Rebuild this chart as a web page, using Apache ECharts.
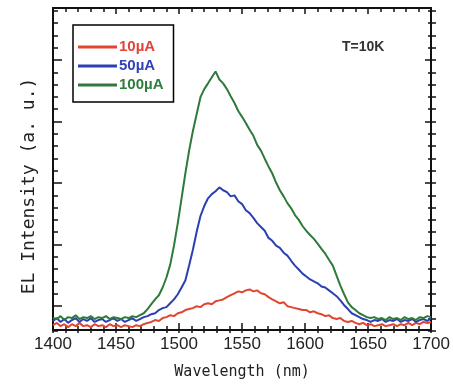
<!DOCTYPE html>
<html>
<head>
<meta charset="utf-8">
<script src="https://cdn.jsdelivr.net/npm/echarts@6/dist/echarts.min.js"></script>
<style>
  html, body { margin: 0; padding: 0; background: #fff; }
  #chart { width: 453px; height: 385px; }
</style>
</head>
<body>
<div id="chart"></div>
<script>
// Wavelength sampling (nm)
const wavelength = [
  1400, 1403, 1406, 1409, 1412, 1415, 1418, 1421, 1424, 1427, 1430, 1433, 1436, 1439, 1442, 1445, 1448,
  1451, 1454, 1457, 1460, 1463, 1466, 1469, 1472, 1475, 1478, 1481, 1484, 1487, 1490, 1493, 1496, 1499,
  1502, 1505, 1508, 1511, 1514, 1517, 1520, 1523, 1526, 1529, 1532, 1535, 1538, 1541, 1544, 1547, 1550,
  1553, 1556, 1559, 1562, 1565, 1568, 1571, 1574, 1577, 1580, 1583, 1586, 1589, 1592, 1595, 1598, 1601,
  1604, 1607, 1610, 1613, 1616, 1619, 1622, 1625, 1628, 1631, 1634, 1637, 1640, 1643, 1646, 1649, 1652,
  1655, 1658, 1661, 1664, 1667, 1670, 1673, 1676, 1679, 1682, 1685, 1688, 1691, 1694, 1697, 1700
];

// EL intensity (a.u.) at 10 uA
const el10uA = [
  1.5, 2.2, 1.2, 1.8, 0.9, 1.8, 1.2, 2.2, 1.2, 1.5, 0.9, 1.8, 1.2, 1.5, 0.9, 1.8, 1.2,
  1.5, 0.9, 1.5, 1.2, 0.9, 1.5, 1.2, 1.8, 2.2, 2.5, 3.1, 2.8, 3.7, 4.0, 4.6, 4.3, 5.2,
  5.5, 6.2, 6.5, 6.8, 7.4, 7.1, 8.0, 8.3, 8.0, 8.9, 9.2, 9.5, 10.2, 10.8, 11.4, 12.0, 11.7,
  12.3, 12.6, 12.0, 12.3, 11.4, 11.1, 10.2, 9.5, 8.9, 8.3, 8.6, 7.4, 7.1, 6.8, 6.5, 6.2, 6.2,
  5.5, 5.8, 5.2, 4.9, 4.3, 4.6, 3.7, 3.4, 3.7, 2.8, 2.5, 2.8, 2.2, 1.8, 2.2, 1.5, 1.8,
  1.2, 1.5, 1.8, 1.2, 1.5, 1.8, 1.2, 1.8, 1.5, 2.2, 1.5, 2.2, 1.8, 2.5, 2.2, 2.5
];

// EL intensity (a.u.) at 50 uA
const el50uA = [
  2.8, 3.7, 2.5, 3.4, 2.2, 3.1, 3.7, 2.5, 3.4, 2.8, 3.7, 2.5, 3.1, 3.4, 2.5, 3.1, 3.7,
  2.8, 3.4, 2.5, 3.1, 3.7, 2.8, 3.4, 4.0, 4.3, 4.9, 5.2, 6.2, 6.8, 7.1, 8.3, 9.5, 11.1,
  13.2, 15.4, 20.0, 24.9, 30.5, 35.4, 38.5, 40.9, 42.2, 43.1, 44.3, 43.4, 42.8, 41.5, 41.8, 40.0, 39.1,
  37.2, 36.3, 34.8, 33.2, 32.0, 30.8, 28.6, 27.7, 26.2, 25.5, 24.0, 23.1, 21.5, 20.0, 18.8, 17.5, 16.6,
  15.7, 15.1, 14.5, 13.5, 13.2, 12.3, 11.4, 10.5, 9.2, 7.7, 6.5, 5.2, 4.6, 4.0, 3.4, 3.1, 2.5,
  3.1, 2.8, 3.4, 2.5, 3.1, 2.8, 3.4, 2.5, 3.1, 2.8, 3.4, 2.5, 3.1, 3.4, 2.8, 3.7
];

// EL intensity (a.u.) at 100 uA
const el100uA = [
  3.7, 3.4, 4.3, 3.1, 4.0, 3.7, 4.6, 3.4, 4.0, 3.7, 4.3, 3.4, 4.0, 3.7, 4.3, 3.4, 4.0,
  3.7, 3.4, 4.0, 3.7, 4.3, 4.0, 4.6, 5.2, 6.5, 8.0, 9.5, 10.8, 13.2, 16.3, 20.3, 26.2, 33.2,
  40.9, 48.6, 55.7, 61.8, 67.1, 72.3, 74.8, 76.6, 78.5, 80.3, 77.8, 76.6, 74.8, 72.6, 70.5, 68.0, 66.2,
  64.3, 62.2, 60.3, 57.5, 55.7, 53.2, 50.8, 48.6, 45.8, 43.4, 41.5, 39.4, 37.8, 35.7, 34.2, 32.3, 30.8,
  29.5, 28.3, 26.8, 25.2, 23.7, 21.8, 20.0, 16.9, 13.8, 11.1, 8.6, 7.1, 6.2, 5.2, 4.6, 4.0, 3.7,
  4.0, 3.4, 3.7, 3.1, 4.0, 3.4, 3.7, 3.1, 4.0, 3.4, 3.7, 3.1, 4.0, 3.7, 4.3, 4.0
];

const seriesNames = ['10\u00B5A', '50\u00B5A', '100\u00B5A'];
const lineColors = ['#e2452f', '#2b3fb4', '#2f7a3a'];
const legendTextColors = ['#e0443a', '#3342b8', '#2f7d3c'];

const xMin = 1400, xMax = 1700, xMajor = 50;

const pairs = (ys) => wavelength.map((w, i) => [w, ys[i]]);
const seriesData = [el10uA, el50uA, el100uA];

const black = '#111';
const sansFont = "'Liberation Sans', Arial, sans-serif";
const monoFont = "'DejaVu Sans Mono', 'Liberation Mono', monospace";

const hiddenX = (gridIndex) => ({ type: 'value', gridIndex, show: false, min: 0, max: 1 });

const chart = echarts.init(document.getElementById('chart'), null, { renderer: 'canvas' });

chart.setOption({
  animation: false,
  backgroundColor: '#fff',
  grid: [
    { left: 53, right: 20, top: 8, bottom: 52 },          // plot frame and curves
    { left: 53, right: 20, top: 10.8, bottom: 54.4 },     // minor y ticks
    { left: 53, right: 20, top: 60, bottom: 79 }          // major y ticks
  ],
  xAxis: [
    {
      type: 'value', gridIndex: 0, position: 'bottom',
      min: xMin, max: xMax, interval: xMajor,
      axisLine: { show: true, onZero: false, lineStyle: { color: black, width: 2 } },
      axisTick: { show: true, inside: true, length: 7, lineStyle: { color: black, width: 1.5 } },
      minorTick: { show: true, splitNumber: 5, length: 4, lineStyle: { color: black, width: 1.5 } },
      splitLine: { show: false },
      axisLabel: {
        show: true, margin: 6, color: '#222', fontFamily: sansFont, fontSize: 17,
        formatter: (v) => String(v)
      },
      name: 'Wavelength (nm)', nameLocation: 'middle', nameGap: 35,
      nameTextStyle: { color: '#222', fontFamily: monoFont, fontSize: 15 }
    },
    {
      type: 'value', gridIndex: 0, position: 'bottom',
      min: xMin, max: xMax, interval: xMajor,
      axisLine: { show: false, onZero: false },
      axisTick: { show: true, inside: false, length: 3, lineStyle: { color: black, width: 1.5 } },
      minorTick: { show: true, splitNumber: 5, length: 3, lineStyle: { color: black, width: 1.5 } },
      splitLine: { show: false }, axisLabel: { show: false }
    },
    {
      type: 'value', gridIndex: 0, position: 'top',
      min: xMin, max: xMax, interval: xMajor,
      axisLine: { show: true, onZero: false, lineStyle: { color: black, width: 2 } },
      axisTick: { show: true, inside: true, length: 6, lineStyle: { color: black, width: 1.5 } },
      minorTick: { show: true, splitNumber: 5, length: 4, lineStyle: { color: black, width: 1.5 } },
      splitLine: { show: false }, axisLabel: { show: false }
    },
    hiddenX(1),
    hiddenX(2)
  ],
  yAxis: [
    {
      type: 'value', gridIndex: 0, position: 'left', min: 0, max: 100,
      axisLine: { show: true, onZero: false, lineStyle: { color: black, width: 2 } },
      axisTick: { show: false }, axisLabel: { show: false }, splitLine: { show: false }
    },
    {
      type: 'value', gridIndex: 0, position: 'right', min: 0, max: 100,
      axisLine: { show: true, onZero: false, lineStyle: { color: black, width: 2 } },
      axisTick: { show: false }, axisLabel: { show: false }, splitLine: { show: false }
    },
    {
      type: 'value', gridIndex: 1, position: 'left', min: 0, max: 26, interval: 1,
      axisLine: { show: false },
      axisTick: { show: true, inside: true, length: 5, lineStyle: { color: black, width: 1.5 } },
      axisLabel: { show: false }, splitLine: { show: false }
    },
    {
      type: 'value', gridIndex: 1, position: 'right', min: 0, max: 26, interval: 1,
      axisLine: { show: false },
      axisTick: { show: true, inside: true, length: 5, lineStyle: { color: black, width: 1.5 } },
      axisLabel: { show: false }, splitLine: { show: false }
    },
    {
      type: 'value', gridIndex: 1, position: 'right', min: 0, max: 26, interval: 1, offset: 0,
      axisLine: { show: false },
      axisTick: { show: true, inside: false, length: 3, lineStyle: { color: black, width: 1.5 } },
      axisLabel: { show: false }, splitLine: { show: false }
    },
    {
      type: 'value', gridIndex: 2, position: 'left', min: 0, max: 20, interval: 5,
      axisLine: { show: false },
      axisTick: { show: true, inside: true, length: 9, lineStyle: { color: black, width: 1.5 } },
      axisLabel: { show: false }, splitLine: { show: false }
    },
    {
      type: 'value', gridIndex: 2, position: 'right', min: 0, max: 20, interval: 5,
      axisLine: { show: false },
      axisTick: { show: true, inside: true, length: 8, lineStyle: { color: black, width: 1.5 } },
      axisLabel: { show: false }, splitLine: { show: false }
    }
  ],
  legend: {
    orient: 'vertical',
    left: 73, top: 25,
    icon: 'rect',
    itemWidth: 39, itemHeight: 3, itemGap: 3,
    padding: [14, 10, 9, 5],
    borderColor: '#000', borderWidth: 1.5,
    backgroundColor: '#fff',
    textStyle: {
      fontFamily: sansFont, fontWeight: 'bold', fontSize: 15, lineHeight: 16,
      padding: [0, 0, 0, -3]
    },
    data: seriesNames.map((n, i) => ({ name: n, textStyle: { color: legendTextColors[i] } }))
  },
  graphic: [
    {
      type: 'text', left: 342, top: 40,
      style: { text: 'T=10K', fill: '#333', font: "bold 14px " + sansFont }
    },
    {
      type: 'text', x: 29, y: 186, rotation: Math.PI / 2,
      style: {
        text: 'EL Intensity (a. u.)', fill: '#222', font: "18px " + monoFont,
        align: 'center', verticalAlign: 'middle'
      }
    }
  ],
  series: seriesData.map((ys, i) => ({
    name: seriesNames[i],
    type: 'line',
    xAxisIndex: 0, yAxisIndex: 0,
    data: pairs(ys),
    symbol: 'none',
    color: lineColors[i],
    lineStyle: { width: 2, color: lineColors[i] },
    z: 3 + i
  }))
});
</script>
</body>
</html>
